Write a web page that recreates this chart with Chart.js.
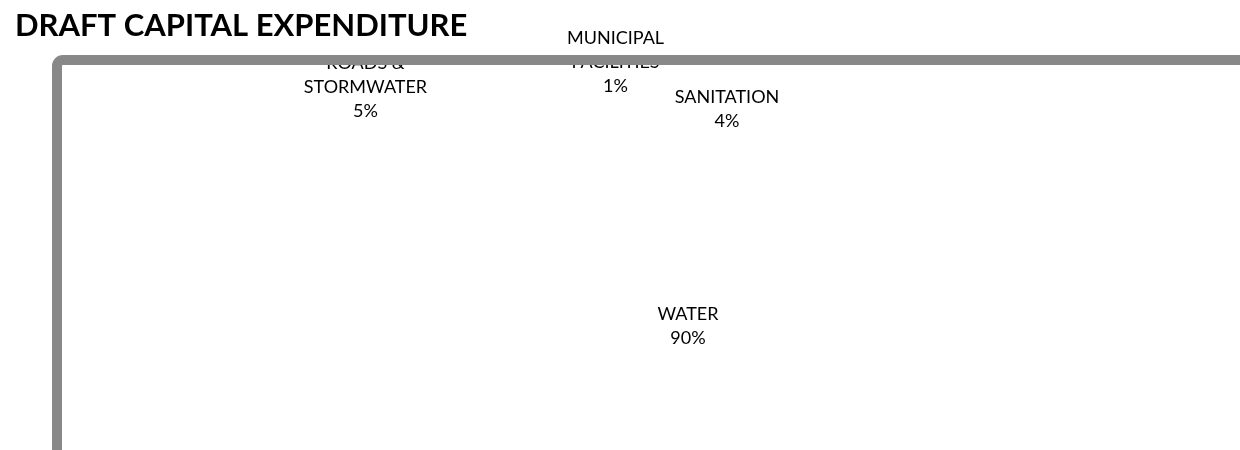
<!DOCTYPE html>
<html>
<head>
<meta charset="utf-8">
<script src="https://cdn.jsdelivr.net/npm/chart.js@4.4.1/dist/chart.umd.min.js"></script>
<style>
  html, body { margin: 0; padding: 0; background: #fff; }
  #wrap { width: 1240px; height: 450px; }
</style>
</head>
<body>
<div id="wrap"><canvas id="chart" width="1240" height="450"></canvas></div>
<script>
const chartTitle = 'DRAFT CAPITAL EXPENDITURE';
// category names, already split into lines like the original labels
const categories = [
  ['ROADS &', 'STORMWATER'],
  ['MUNICIPAL', 'FACILITIES'],
  ['SANITATION'],
  ['WATER']
];
const shares = [5, 1, 4, 90];

// labels were dragged around by hand in the original, so shift them from the slice centre
const labelShift = [[-310, -84], [-75, -108], [24, -62], [0, -4]];

const labelPlugin = {
  id: 'sliceLabels',
  afterDatasetsDraw(chart) {
    const ctx = chart.ctx;
    const total = shares.reduce((a, b) => a + b, 0);
    const arcs = chart.getDatasetMeta(0).data;
    ctx.save();
    ctx.font = '18px Lato';
    ctx.fillStyle = '#000';
    ctx.textAlign = 'center';
    ctx.textBaseline = 'middle';
    const lh = 24;
    arcs.forEach((arc, i) => {
      const p = arc.tooltipPosition();
      const lines = categories[i].concat([Math.round(shares[i] / total * 100) + '%']);
      const x = p.x + labelShift[i][0];
      const y0 = p.y + labelShift[i][1] - (lines.length - 1) * lh / 2;
      lines.forEach((t, j) => ctx.fillText(t, x, y0 + j * lh));
    });
    ctx.restore();
  },
  afterDraw(chart) {
    const ctx = chart.ctx;
    ctx.save();
    // title
    ctx.font = 'bold 31px Lato';
    ctx.fillStyle = '#000';
    ctx.textBaseline = 'middle';
    ctx.fillText(chartTitle, 15, 26);
    // grey plot frame, runs off the right and bottom edges
    ctx.strokeStyle = '#888888';
    ctx.lineWidth = 10;
    ctx.beginPath();
    ctx.roundRect(57, 60, 1300, 600, 6);
    ctx.stroke();
    ctx.restore();
  }
};

new Chart(document.getElementById('chart'), {
  type: 'pie',
  data: {
    labels: categories.map(c => c.join(' ')),
    datasets: [{
      data: shares,
      backgroundColor: '#ffffff',
      borderWidth: 0,
      hoverOffset: 0
    }]
  },
  options: {
    responsive: false,
    animation: false,
    rotation: -18,
    events: [],
    layout: { padding: { left: 528, right: 392, top: 90, bottom: 40 } },
    plugins: {
      legend: { display: false },
      tooltip: { enabled: false },
      title: { display: false }
    }
  },
  plugins: [labelPlugin]
});
</script>
</body>
</html>
